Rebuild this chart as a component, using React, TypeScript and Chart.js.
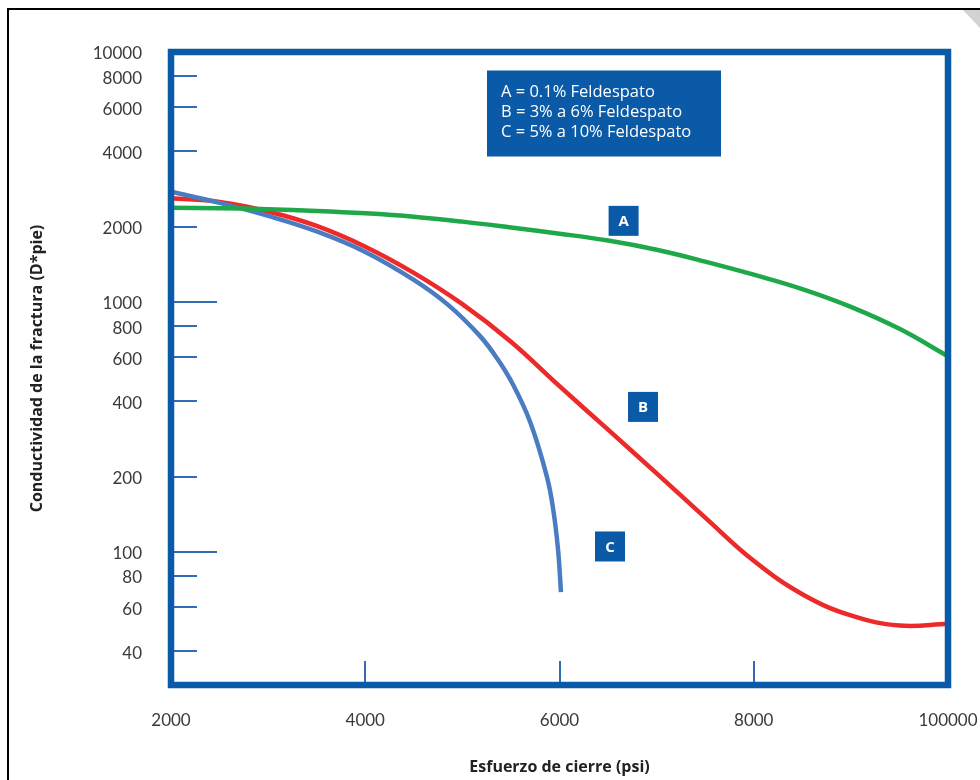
import React, { useEffect, useRef } from "react";
import { Chart, registerables } from "chart.js";

Chart.register(...registerables);

// ---- Data ----
const pressureAB = [2000, 2500, 3000, 3500, 4000, 4500, 5000, 5500, 6000, 6500, 7000, 7500, 8000, 8500, 9000, 9500, 10000];
const seriesA = [2380, 2372, 2350, 2313, 2262, 2192, 2095, 1985, 1875, 1760, 1617, 1450, 1285, 1125, 955, 780, 606];
const seriesB = [2600, 2512, 2301, 2014, 1663, 1306, 979, 693, 460, 308, 206, 137, 92, 67.6, 55.6, 50.7, 51.5];
const pressureC = [2000, 2500, 3000, 3500, 4000, 4500, 4850, 5180, 5360, 5520, 5700, 5870, 5935, 5985, 6015];
const seriesC = [2760, 2489, 2208, 1914, 1585, 1225, 975, 731, 592, 468, 329, 200, 148, 102, 69];

const yTickValues = [10000, 8000, 6000, 4000, 2000, 1000, 800, 600, 400, 200, 100, 80, 60, 40];
const yLongTicks = [1000, 100];
const xTickValues = [2000, 4000, 6000, 8000, 10000];
const xTickLabels = ["2000", "4000", "6000", "8000", "100000"];

const legendLines = ["A = 0.1% Feldespato", "B = 3% a 6% Feldespato", "C = 5% a 10% Feldespato"];
const curveTags = ["A", "B", "C"];
const curveTagX = [6660, 6860, 6520];
const curveTagY = [2110, 380, 105];

const yTitle = "Conductividad de la fractura (D*pie)";
const xTitle = "Esfuerzo de cierre (psi)";

const FRAME = "#0a5aa8";
const TICKBLUE = "#2f6db5";
const TEXT = "#3a3a3a";
const FONT = "Lato, 'Open Sans', sans-serif";
const TITLEFONT = "'Open Sans', Lato, sans-serif";

const decorPlugin = {
  id: "decor",
  beforeDraw(chart: any) {
    const ctx = chart.ctx;
    ctx.save();
    ctx.fillStyle = "#ffffff";
    ctx.fillRect(0, 0, chart.width, chart.height);
    // page border
    ctx.strokeStyle = "#000000";
    ctx.lineWidth = 2;
    ctx.beginPath();
    ctx.moveTo(8, chart.height);
    ctx.lineTo(8, 9);
    ctx.lineTo(chart.width, 9);
    ctx.stroke();
    // page-curl corner
    ctx.fillStyle = "#d2d2d2";
    ctx.beginPath();
    ctx.moveTo(963, 10);
    ctx.lineTo(chart.width, 10);
    ctx.lineTo(chart.width, 28);
    ctx.closePath();
    ctx.fill();
    ctx.restore();
  },
  afterDatasetsDraw(chart: any) {
    const ctx = chart.ctx;
    const { left, right, top, bottom } = chart.chartArea;
    const xs = chart.scales.x;
    const ys = chart.scales.y;
    ctx.save();
    // inner ticks
    ctx.strokeStyle = TICKBLUE;
    ctx.lineWidth = 2;
    yTickValues.forEach((v) => {
      if (v >= 10000) return;
      const py = Math.round(ys.getPixelForValue(v));
      const len = yLongTicks.includes(v) ? 46 : 26;
      ctx.beginPath();
      ctx.moveTo(left, py);
      ctx.lineTo(left + len, py);
      ctx.stroke();
    });
    xTickValues.forEach((v) => {
      if (v <= 2000 || v >= 10000) return;
      const px = Math.round(xs.getPixelForValue(v));
      ctx.beginPath();
      ctx.moveTo(px, bottom);
      ctx.lineTo(px, bottom - 24);
      ctx.stroke();
    });
    // frame
    ctx.strokeStyle = FRAME;
    ctx.lineWidth = 6.5;
    ctx.strokeRect(left, top, right - left, bottom - top);

    // legend box
    const bx = left + 316;
    const by = top + 18.5;
    ctx.fillStyle = FRAME;
    ctx.fillRect(bx, by, 234, 86);
    ctx.fillStyle = "#ffffff";
    ctx.font = "16.5px " + TITLEFONT;
    ctx.textAlign = "left";
    ctx.textBaseline = "middle";
    legendLines.forEach((t, i) => {
      ctx.fillText(t, bx + 14, by + 22 + i * 20);
    });

    // curve tags
    curveTags.forEach((t, i) => {
      const cx = xs.getPixelForValue(curveTagX[i]);
      const cy = ys.getPixelForValue(curveTagY[i]);
      ctx.fillStyle = FRAME;
      ctx.fillRect(cx - 15, cy - 15, 30, 30);
      ctx.fillStyle = "#ffffff";
      ctx.font = "bold 15px " + TITLEFONT;
      ctx.textAlign = "center";
      ctx.textBaseline = "middle";
      ctx.fillText(t, cx, cy + 1);
    });
    ctx.restore();
  },
};

export default function App() {
  const ref = useRef<HTMLCanvasElement | null>(null);

  useEffect(() => {
    document.body.style.margin = "0";
    const canvas = ref.current;
    if (!canvas) return;
    const toPts = (xa: number[], ya: number[]) => xa.map((x, i) => ({ x, y: ya[i] }));
    const line = (label: string, data: any[], color: string) => ({
      label,
      data,
      borderColor: color,
      borderWidth: 4.5,
      pointRadius: 0,
      tension: 0.4,
      fill: false,
    });
    const chart = new Chart(canvas, {
      type: "line",
      data: {
        datasets: [
          line("A", toPts(pressureAB, seriesA), "#1fa84a"),
          line("C", toPts(pressureC, seriesC), "#4a7cc2"),
          line("B", toPts(pressureAB, seriesB), "#ec2a2a"),
        ],
      },
      options: {
        animation: false,
        responsive: false,
        maintainAspectRatio: false,
        layout: { padding: { top: 52, right: 32, left: 0, bottom: 0 } },
        plugins: {
          legend: { display: false },
          tooltip: { enabled: false },
        },
        scales: {
          x: {
            type: "linear",
            min: 2000,
            max: 10000,
            grid: { display: false, drawTicks: false },
            border: { display: false },
            afterBuildTicks: (s: any) => {
              s.ticks = xTickValues.map((v) => ({ value: v }));
            },
            afterFit: (s: any) => {
              s.height = 95;
              s.paddingLeft = 0;
              s.paddingRight = 0;
            },
            ticks: {
              padding: 25,
              color: TEXT,
              font: { family: FONT, size: 17 },
              maxRotation: 0,
              autoSkip: false,
              callback: (v: any) => {
                const i = xTickValues.indexOf(Number(v));
                return i >= 0 ? xTickLabels[i] : "";
              },
            },
            title: {
              display: true,
              text: xTitle,
              color: "#222222",
              font: { family: TITLEFONT, size: 16, weight: "bold" },
              padding: { top: 0, bottom: 3 },
            },
          },
          y: {
            type: "logarithmic",
            min: 29.3,
            max: 10000,
            grid: { display: false, drawTicks: false },
            border: { display: false },
            afterBuildTicks: (s: any) => {
              s.ticks = yTickValues.map((v) => ({ value: v }));
            },
            afterFit: (s: any) => {
              s.width = 171;
              s.paddingTop = 0;
              s.paddingBottom = 0;
            },
            ticks: {
              padding: 29,
              labelOffset: 2,
              color: TEXT,
              font: { family: FONT, size: 17 },
              autoSkip: false,
              callback: (v: any) => String(v),
            },
            title: {
              display: true,
              text: yTitle,
              color: "#222222",
              font: { family: TITLEFONT, size: 16, weight: "bold" },
              padding: { top: 28, bottom: 0 },
            },
          },
        },
      },
      plugins: [decorPlugin],
    } as any);
    return () => chart.destroy();
  }, []);

  return (
    <div style={{ width: 980, height: 780 }}>
      <canvas ref={ref} width={980} height={780} style={{ display: "block", width: 980, height: 780 }} />
    </div>
  );
}
